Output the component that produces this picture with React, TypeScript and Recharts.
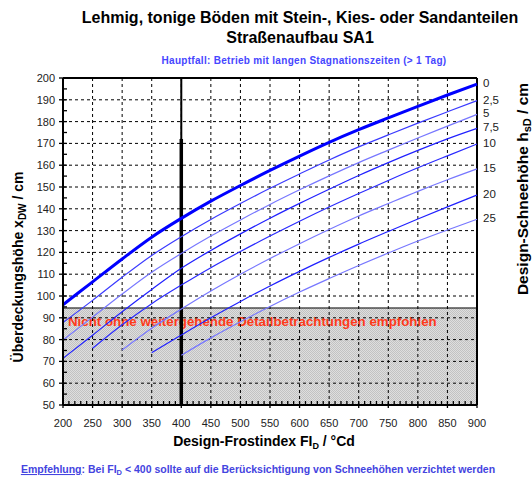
import React from "react";
import {
  LineChart,
  Line,
  XAxis,
  YAxis,
  ReferenceLine,
  ReferenceArea,
  Label,
  LabelList,
} from "recharts";

// Design-Frostindex FI_D / °Cd
const frostIndex = [200, 250, 300, 350, 400, 450, 500, 550, 600, 650, 700, 750, 800, 850, 900];

// Überdeckungshöhe x_DW / cm je Design-Schneehöhe h_sD
const cover0 = [96, 106.5, 117, 127, 135.6, 143.5, 150.7, 157.6, 164.2, 170.5, 176.3, 181.7, 187, 192.2, 197.2];
const cover2_5 = [87.8, 98, 108.6, 118.6, 127.2, 135.1, 142.4, 149.4, 156, 162.4, 168.4, 173.9, 179.3, 184.5, 189.6];
const cover5 = [79.8, 90.3, 100.9, 110.9, 119.5, 127.5, 134.9, 142, 148.7, 155.1, 161.2, 166.9, 172.5, 177.9, 183.3];
const cover7_5 = [71.4, 82, 92.8, 103, 112.7, 120.9, 128.5, 135.7, 142.5, 149, 155.3, 161.2, 166.8, 172.1, 176.9];
const cover10 = [null, 76, 86.8, 96.5, 105, 113, 120.4, 127.5, 134.3, 140.8, 147, 153, 158.8, 164.3, 169.7];
const cover15 = [null, null, 75.2, 85.2, 94, 102.3, 110, 117.2, 124, 130.5, 136.7, 142.4, 148, 153.3, 158.3];
const cover20 = [null, null, null, 74, 82.1, 90, 97.5, 104.6, 111.3, 117.7, 123.8, 129.6, 135.3, 140.9, 146.3];
const cover25 = [null, null, null, null, 72.8, 80.8, 88.2, 95.2, 101.8, 108, 114, 119.7, 125.2, 130.3, 135.2];

const snowLabels = ["0", "2,5", "5", "7,5", "10", "15", "20", "25"];
const seriesList = [cover0, cover2_5, cover5, cover7_5, cover10, cover15, cover20, cover25];
const seriesColors = ["#0000ff", "#3a3aff", "#7777ff", "#2020ff", "#2a2aff", "#7777ff", "#2020ff", "#7777ff"];

const xGrid = [250, 300, 350, 400, 450, 500, 550, 600, 650, 700, 750, 800, 850];
const yGrid = [60, 70, 80, 90, 100, 110, 120, 130, 140, 150, 160, 170, 180, 190];
const xTicks = Array.from({ length: 71 }, (_, i) => 200 + i * 10);
const yTicks = Array.from({ length: 31 }, (_, i) => 50 + i * 5);

const limitCover = 94.5; // darunter nicht ohne Detailbetrachtung
const limitFrost = 400;
const limitLineTop = 172;

const data = frostIndex.map((fi, i) => {
  const row: any = { fi };
  seriesList.forEach((s, k) => (row["s" + k] = s[i]));
  return row;
});

const font = "'Liberation Sans', Arial, sans-serif";

const XTick = (props: any) => {
  const { x, y, payload } = props;
  const major = payload.value % 50 === 0;
  return (
    <g>
      <line x1={x} x2={x} y1={y - 4} y2={major ? y + 3 : y} stroke="#000" strokeWidth={1.3} />
      {major && (
        <text x={x} y={y + 22} textAnchor="middle" fontSize={11} fontFamily={font} fill="#222">
          {payload.value}
        </text>
      )}
    </g>
  );
};

const YTick = (props: any) => {
  const { x, y, payload } = props;
  const major = payload.value % 10 === 0;
  return (
    <g>
      <line x1={major ? x - 4 : x} x2={x + 4} y1={y} y2={y} stroke="#000" strokeWidth={1.3} />
      {major && (
        <text x={x - 8} y={y + 4} textAnchor="end" fontSize={11} fontFamily={font} fill="#222">
          {payload.value}
        </text>
      )}
    </g>
  );
};

export default function App() {
  return (
    <div style={{ position: "absolute", left: 0, top: 0, width: 532, height: 481, background: "#fff" }}>
      <LineChart
        width={532}
        height={481}
        data={data}
        margin={{ top: 78, right: 55, bottom: 56, left: 0 }}
      >
        <defs>
          <pattern id="hatch" width="2" height="2" patternUnits="userSpaceOnUse">
            <rect width="2" height="2" fill="#dedede" />
            <rect width="1" height="1" fill="#c2c2c2" />
            <rect x="1" y="1" width="1" height="1" fill="#c2c2c2" />
          </pattern>
        </defs>
        <XAxis
          dataKey="fi"
          type="number"
          domain={[200, 900]}
          ticks={xTicks}
          interval={0}
          tick={<XTick />}
          tickLine={false}
          tickSize={0}
          tickMargin={0}
          height={20}
          axisLine={{ stroke: "#000", strokeWidth: 2 }}
        />
        <YAxis
          type="number"
          domain={[50, 200]}
          ticks={yTicks}
          interval={0}
          tick={<YTick />}
          tickLine={false}
          tickSize={0}
          tickMargin={0}
          width={63}
          axisLine={{ stroke: "#000", strokeWidth: 2 }}
        />
        <ReferenceArea
          x1={200}
          x2={900}
          y1={50}
          y2={limitCover}
          fill="url(#hatch)"
          fillOpacity={1}
          stroke="#000"
          strokeWidth={1}
        />
        {xGrid.map((v) => (
          <ReferenceLine key={"x" + v} x={v} stroke="#000" strokeDasharray="3 3" strokeWidth={1} />
        ))}
        {yGrid.map((v) => (
          <ReferenceLine key={"y" + v} y={v} stroke="#000" strokeDasharray="3 3" strokeWidth={1} />
        ))}
        <ReferenceLine y={200} stroke="#000" strokeWidth={2} />
        <ReferenceLine x={900} stroke="#000" strokeWidth={2} />
        <ReferenceLine x={limitFrost} stroke="#000" strokeWidth={2} />
        <ReferenceLine
          segment={[
            { x: limitFrost, y: 50 },
            { x: limitFrost, y: limitLineTop },
          ]}
          stroke="#000"
          strokeWidth={3.5}
        />
        {seriesList.map((_, k) => (
          <Line
            key={k}
            dataKey={"s" + k}
            type="monotone"
            stroke={seriesColors[k]}
            strokeWidth={k === 0 ? 3 : 1.2}
            dot={false}
            isAnimationActive={false}
          >
            <LabelList
              dataKey={"s" + k}
              content={(p: any) =>
                p.index === frostIndex.length - 1 ? (
                  <text x={p.x + 6} y={p.y + 3} fontSize={11.5} fontFamily={font} fill="#222">
                    {snowLabels[k]}
                  </text>
                ) : null
              }
            />
          </Line>
        ))}
        <ReferenceArea x1={200} x2={900} y1={50} y2={limitCover} fill="none" stroke="none">
          <Label
            content={(p: any) => (
              <text
                x={p.viewBox.x + 5}
                y={p.viewBox.y + 18}
                fontSize={13.3}
                fontWeight="bold"
                fontFamily={font}
                fill="#ff3a1a"
              >
                Nicht ohne weitergehende Detailbetrachtungen empfohlen
              </text>
            )}
          />
        </ReferenceArea>
      </LineChart>
      <svg width={532} height={481} style={{ position: "absolute", left: 0, top: 0, pointerEvents: "none" }}>
        <g fontFamily={font} fontWeight="bold">
          <text x={300} y={23} textAnchor="middle" fontSize={16} fill="#000">
            Lehmig, tonige Böden mit Stein-, Kies- oder Sandanteilen
          </text>
          <text x={300} y={43} textAnchor="middle" fontSize={16} fill="#000">
            Straßenaufbau SA1
          </text>
          <text x={304} y={64} textAnchor="middle" fontSize={10} letterSpacing={0.3} fill="#4646ff">
            Hauptfall: Betrieb mit langen Stagnationszeiten (&gt; 1 Tag)
          </text>
          <text x={264} y={446} textAnchor="middle" fontSize={14} fill="#000">
            Design-Frostindex FI<tspan dy={3} fontSize={9}>D</tspan>
            <tspan dy={-3}> / °Cd</tspan>
          </text>
          <text x={258} y={473} textAnchor="middle" fontSize={10.5} fill="#4444e0">
            <tspan textDecoration="underline">Empfehlung</tspan>: Bei FI<tspan dy={2} fontSize={7.5}>D</tspan>
            <tspan dy={-2}> &lt; 400 sollte auf die Berücksichtigung von Schneehöhen verzichtet werden</tspan>
          </text>
          <text transform="translate(23,267) rotate(-90)" textAnchor="middle" fontSize={14} fill="#000">
            Überdeckungshöhe x<tspan dy={3} fontSize={10}>DW</tspan>
            <tspan dy={-3}> / cm</tspan>
          </text>
          <text transform="translate(528,189) rotate(-90)" textAnchor="middle" fontSize={15.5} fill="#000">
            Design-Schneehöhe h<tspan dy={3} fontSize={11}>sD</tspan>
            <tspan dy={-3}> / cm</tspan>
          </text>
        </g>
      </svg>
    </div>
  );
}
